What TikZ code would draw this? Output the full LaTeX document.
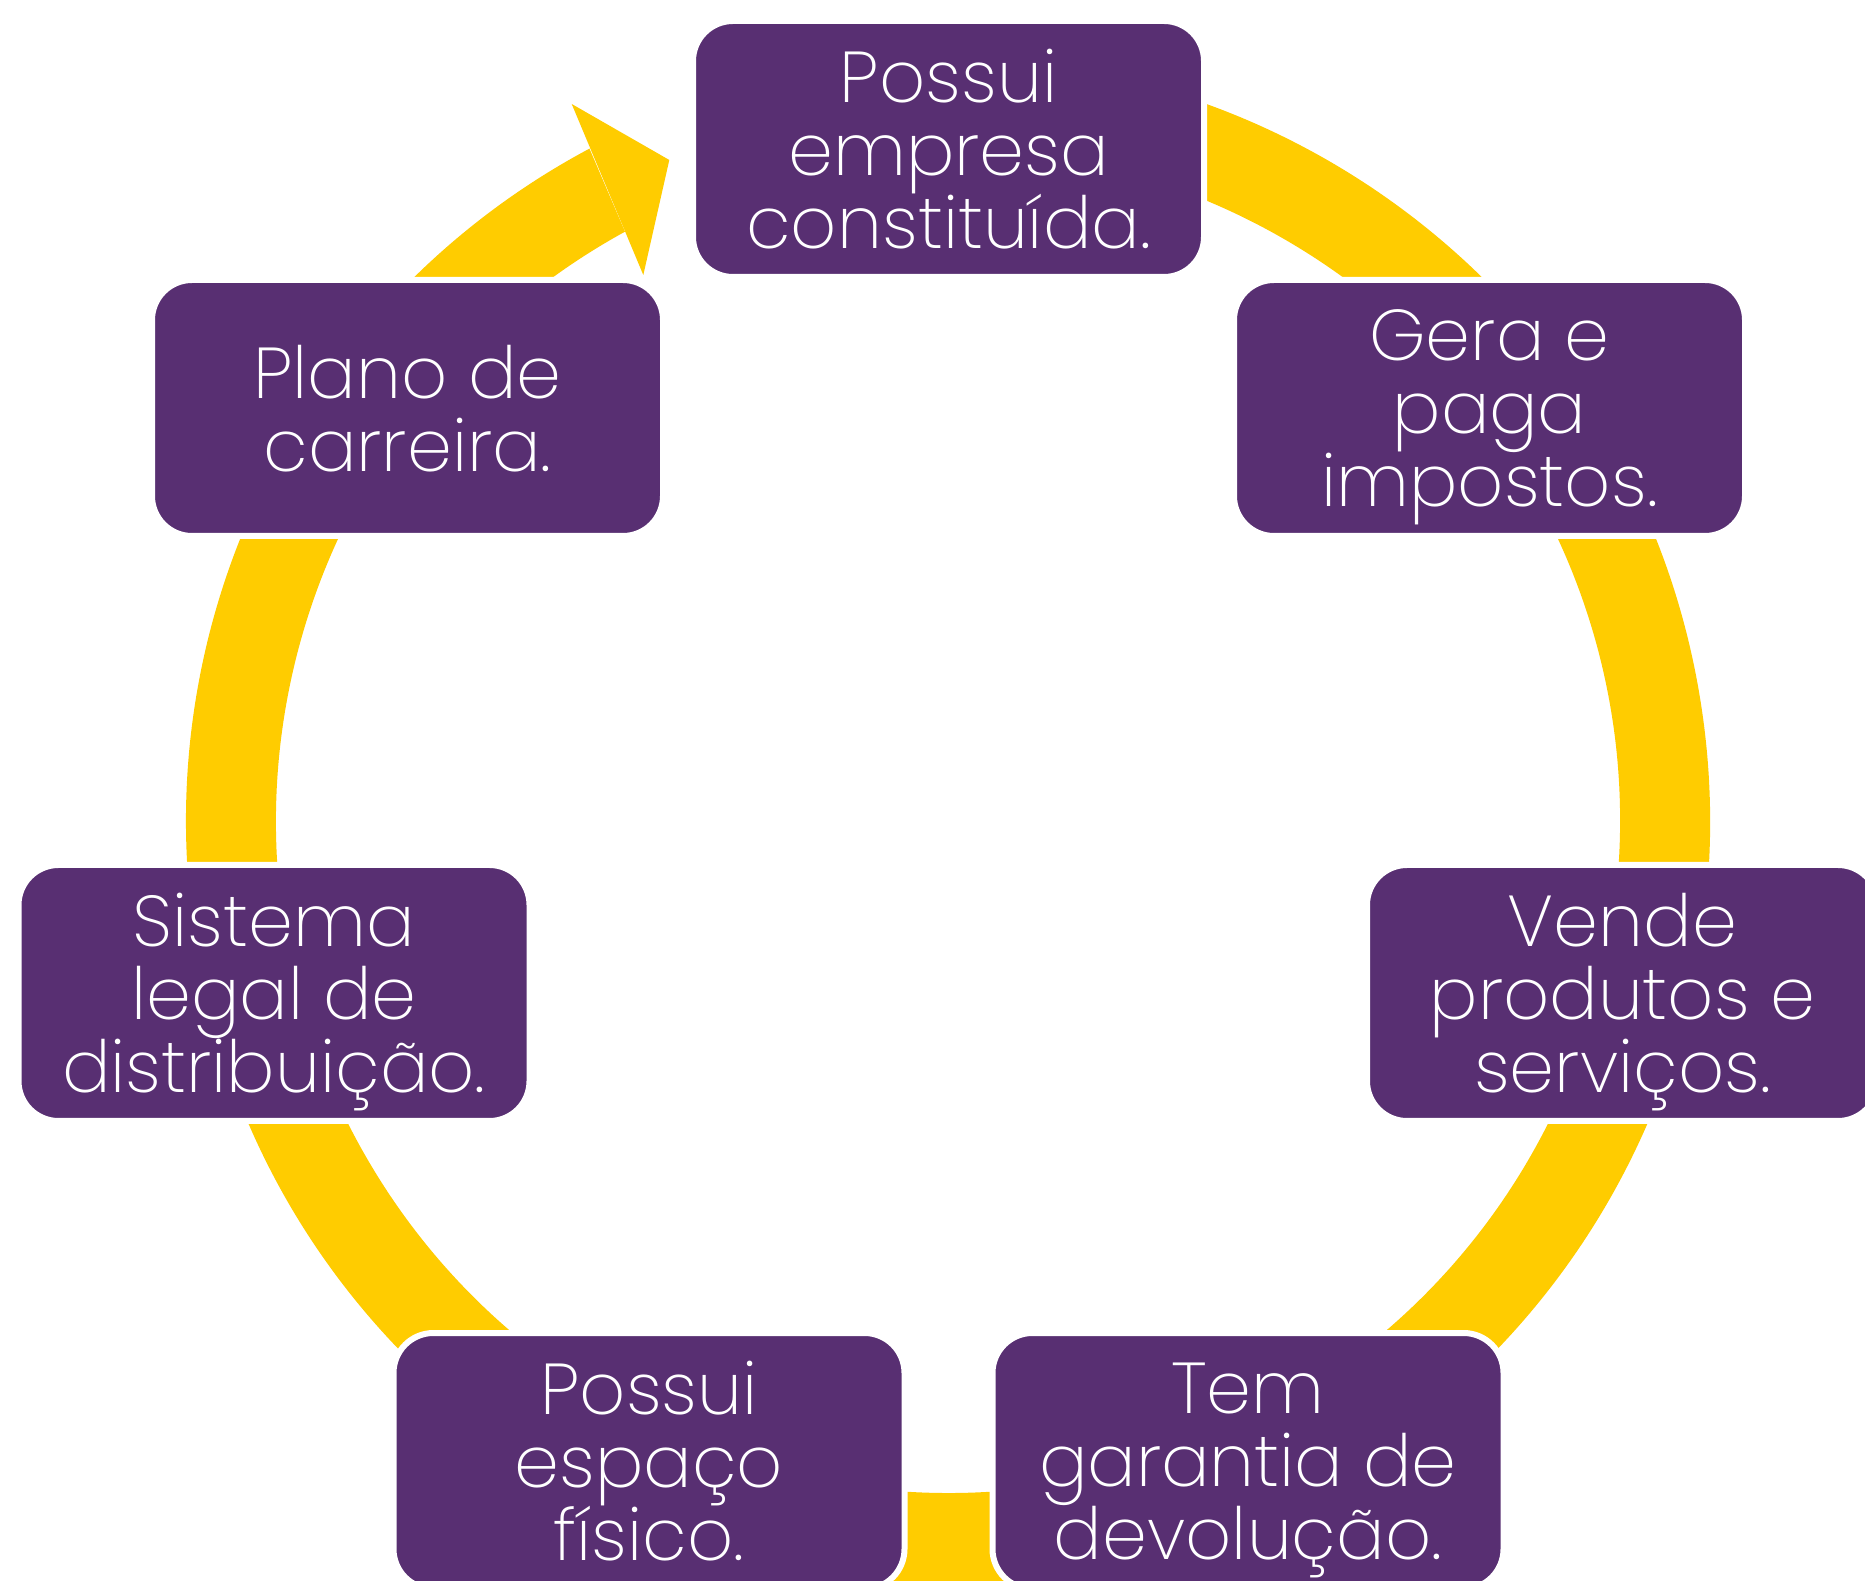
\documentclass[tikz,border=0pt]{standalone}
\usepackage{fontspec}
\newfontfamily\boxfont{Poppins ExtraLight}
\definecolor{ringyellow}{HTML}{FFCC00}
\definecolor{boxpurple}{HTML}{582F72}
\begin{document}
\begin{tikzpicture}[x=1pt,y=1pt,
  stage/.style={draw=white, line width=6pt, fill=boxpurple, rounded corners=40pt,
    minimum width=511pt, minimum height=256pt, inner sep=0pt, text=white,
    align=center, text depth=0pt, font=\boxfont\fontsize{72}{73}\selectfont}]
\useasboundingbox (0,0) rectangle (1865,1580);
\clip (0,0) rectangle (1865,1580);
\fill[white] (0,0) rectangle (1865,1580);
% ring
\coordinate (c) at (948,759);
\coordinate (ushaft) at (589.3,1431.7);
\coordinate (lshaft) at (625,1348.3);
\coordinate (ubarb) at (571.7,1476);
\coordinate (tip) at (669.3,1420);
\coordinate (lbarb) at (643.3,1305);
\fill[ringyellow] ([shift={(100:762)}]c) arc[start angle=100, end angle=-241.93, radius=762]
  -- (lshaft) arc[start angle=-241.27, end angle=100, radius=672] -- cycle;
\fill[ringyellow] (ubarb) -- (tip) -- (lbarb) -- cycle;
% boxes
\node[stage] (n1) at (948.5,1431) {Possui\\empresa\\constituída.};
\node[stage] (n2) at (1489.5,1172) {Gera e\\paga\\impostos.};
\node[stage] (n3) at (1622.5,587) {Vende\\produtos e\\serviços.};
\node[stage] (n4) at (1248,119) {Tem\\garantia de\\devolução.};
\node[stage] (n5) at (649,119) {Possui\\espaço\\físico.};
\node[stage] (n6) at (274,587) {Sistema\\legal de\\distribuição.};
\node[stage] (n7) at (407.5,1172) {Plano de\\carreira.};
\end{tikzpicture}
\end{document}
